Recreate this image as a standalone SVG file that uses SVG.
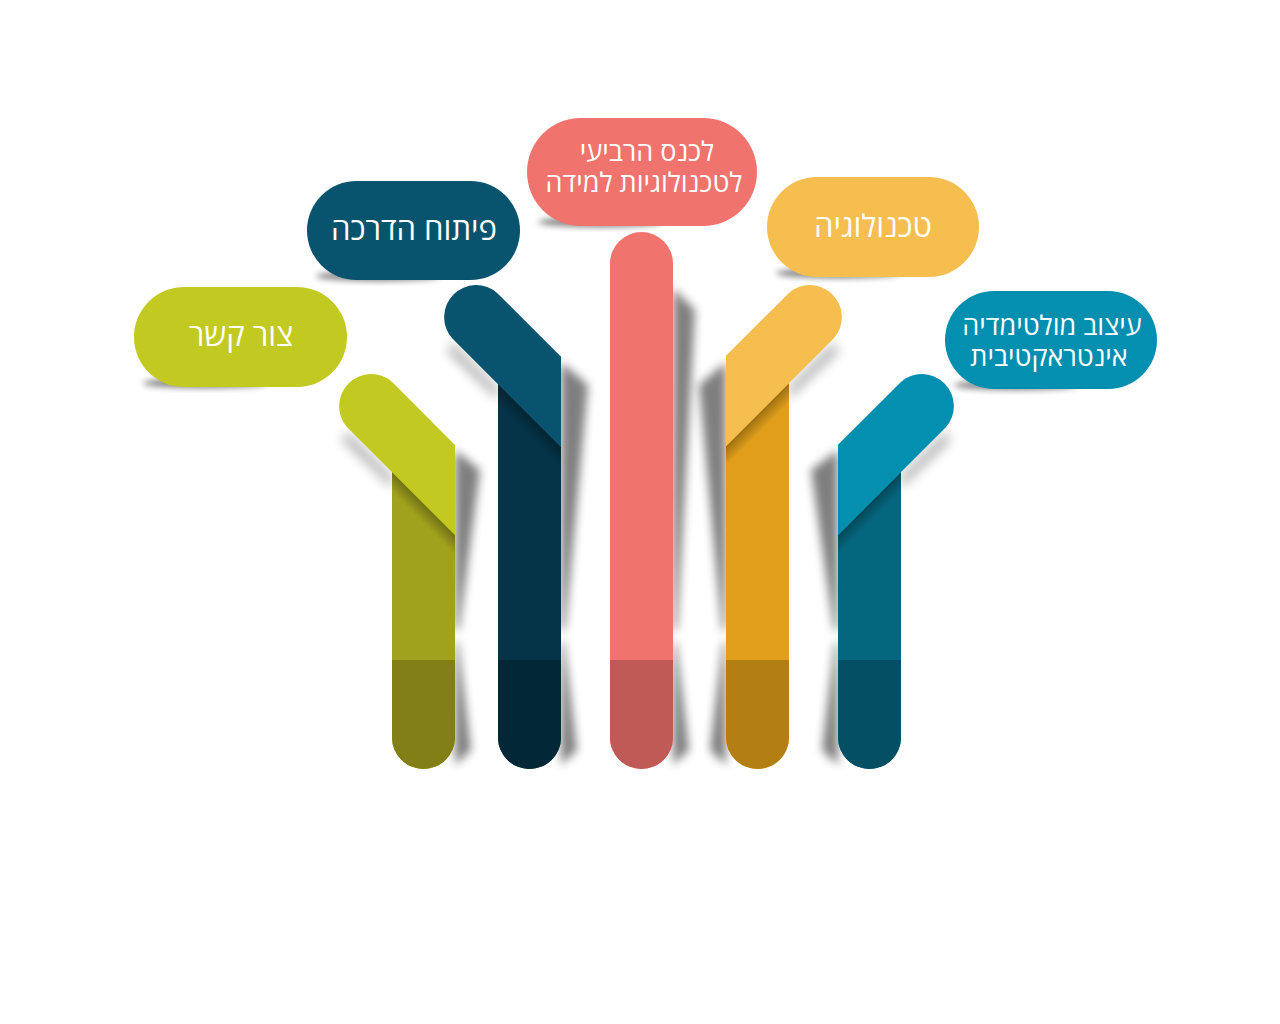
<svg xmlns="http://www.w3.org/2000/svg" width="1280" height="1024" viewBox="0 0 1280 1024">
<defs>
<filter id="blur" x="-50%" y="-50%" width="200%" height="200%"><feGaussianBlur stdDeviation="5"/></filter>
<filter id="blurs" x="-50%" y="-50%" width="200%" height="200%"><feGaussianBlur stdDeviation="6"/></filter>
<filter id="blur2" x="-50%" y="-50%" width="200%" height="200%"><feGaussianBlur stdDeviation="3"/></filter>
<linearGradient id="gOl" gradientUnits="userSpaceOnUse" x1="423.5" y1="503.5" x2="413.5" y2="513.5"><stop offset="0" stop-color="#000" stop-opacity=".3"/><stop offset="1" stop-color="#000" stop-opacity="0"/></linearGradient>
<linearGradient id="gTe" gradientUnits="userSpaceOnUse" x1="529.5" y1="415.7" x2="519.5" y2="425.7"><stop offset="0" stop-color="#000" stop-opacity=".3"/><stop offset="1" stop-color="#000" stop-opacity="0"/></linearGradient>
<linearGradient id="gYe" gradientUnits="userSpaceOnUse" x1="757.5" y1="414.7" x2="767.5" y2="424.7"><stop offset="0" stop-color="#000" stop-opacity=".3"/><stop offset="1" stop-color="#000" stop-opacity="0"/></linearGradient>
<linearGradient id="gBl" gradientUnits="userSpaceOnUse" x1="869.5" y1="503.7" x2="879.5" y2="513.7"><stop offset="0" stop-color="#000" stop-opacity=".3"/><stop offset="1" stop-color="#000" stop-opacity="0"/></linearGradient>
<style>
.sh{fill:#000;opacity:.5;filter:url(#blur)}
.ash{fill:#000;opacity:.3;filter:url(#blurs)}
.psh{fill:#000;opacity:.5;filter:url(#blur2)}
.lbl{font-family:"Open Sans","Liberation Sans","DejaVu Sans",sans-serif;fill:#fff;text-anchor:middle}
.big{font-size:31px}
.small{font-size:27px}
</style>
</defs>
<rect width="1280" height="1024" fill="#fff"/>
<g id="shadows">
<path class="sh" d="M455,450 L480,470 L459,630 L455,630 Z"/>
<path class="sh" d="M455,642 L458,642 L471,750 L455,765 Z"/>
<path class="ash" d="M348,432 L392,476 L392,488 L342,440 Z"/>
<path class="sh" d="M561,362 L588,385 L565,630 L561,630 Z"/>
<path class="sh" d="M561,642 L564,642 L577,750 L561,765 Z"/>
<path class="ash" d="M453,343 L498,388 L498,400 L447,351 Z"/>
<path class="sh" d="M673,288 L695,310 L677,630 L673,630 Z"/>
<path class="sh" d="M673,642 L676,642 L689,750 L673,765 Z"/>
<path class="sh" d="M726,362 L699,385 L722,630 L726,630 Z"/>
<path class="sh" d="M726,642 L723,642 L710,750 L726,765 Z"/>
<path class="ash" d="M833,343 L789,387 L789,399 L839,351 Z"/>
<path class="sh" d="M838,450 L811,470 L834,630 L838,630 Z"/>
<path class="sh" d="M838,642 L835,642 L822,750 L838,765 Z"/>
<path class="ash" d="M945,432 L901,476 L901,488 L951,440 Z"/>
</g>
<g id="connectors"/>
<g id="bar-olive">
<path d="M392,445 H455 V737.5 A31.5,31.5 0 0 1 392,737.5 Z" fill="#A0A11D"/>
<path d="M392,660 H455 V737.5 A31.5,31.5 0 0 1 392,737.5 Z" fill="#817F15"/>
<path d="M392,472 L455,535 L455,560 L392,497 Z" fill="url(#gOl)"/>
<path d="M392.6,382.4 L455,445 L455,535 L347.4,427.6 A32,32 0 0 1 392.6,382.4 Z" fill="#C2C920"/>
</g>
<g id="bar-teal">
<path d="M498,356.8 H561 V737.5 A31.5,31.5 0 0 1 498,737.5 Z" fill="#053347"/>
<path d="M498,660 H561 V737.5 A31.5,31.5 0 0 1 498,737.5 Z" fill="#022837"/>
<path d="M498,384.2 L561,447.2 L561,472 L498,409 Z" fill="url(#gTe)"/>
<path d="M497.6,293.4 L561,356.8 L561,447.2 L452.4,338.6 A32,32 0 0 1 497.6,293.4 Z" fill="#08546E"/>
</g>
<g id="bar-coral">
<rect x="610" y="232" width="63" height="537" rx="31.5" fill="#F0736D"/>
<path d="M610,660 H673 V737.5 A31.5,31.5 0 0 1 610,737.5 Z" fill="#C05A56"/>
</g>
<g id="bar-yellow">
<path d="M726,355.8 H789 V737.5 A31.5,31.5 0 0 1 726,737.5 Z" fill="#E19F1B"/>
<path d="M726,660 H789 V737.5 A31.5,31.5 0 0 1 726,737.5 Z" fill="#B47F12"/>
<path d="M789,383.2 L726,446.2 L726,471 L789,408 Z" fill="url(#gYe)"/>
<path d="M788.4,293.4 L726,355.8 L726,446.2 L833.6,338.6 A32 32 0 0 0 788.4,293.4 Z" fill="#F5BE4F"/>
</g>
<g id="bar-blue">
<path d="M838,444.8 H901 V737.5 A31.5,31.5 0 0 1 838,737.5 Z" fill="#04677E"/>
<path d="M838,660 H901 V737.5 A31.5,31.5 0 0 1 838,737.5 Z" fill="#044F63"/>
<path d="M901,472.2 L838,535.2 L838,560 L901,497 Z" fill="url(#gBl)"/>
<path d="M900.4,382.4 L838,444.8 L838,535.2 L945.6,427.6 A32,32 0 0 0 900.4,382.4 Z" fill="#038FB0"/>
</g>
<g id="label-olive">
<ellipse class="psh" cx="205" cy="383" rx="62" ry="5"/>
<rect x="134" y="287" width="213" height="100" rx="50" fill="#C2C920"/>
<text class="lbl big" x="241" y="346">צור קשר</text>
</g>
<g id="label-teal">
<ellipse class="psh" cx="378" cy="276" rx="62" ry="5"/>
<rect x="307" y="181" width="213" height="99" rx="49.5" fill="#08546E"/>
<text class="lbl big" x="414" y="240">פיתוח הדרכה</text>
</g>
<g id="label-coral">
<ellipse class="psh" cx="600" cy="222" rx="62" ry="5"/>
<rect x="527" y="118" width="230" height="108" rx="54" fill="#F0736D"/>
<text class="lbl small"><tspan x="647" y="161">לכנס הרביעי</tspan><tspan x="644" y="192">לטכנולוגיות למידה</tspan></text>
</g>
<g id="label-yellow">
<ellipse class="psh" cx="838" cy="273" rx="62" ry="5"/>
<rect x="767" y="177" width="212" height="100" rx="50" fill="#F5BE4F"/>
<text class="lbl big" x="873" y="237">טכנולוגיה</text>
</g>
<g id="label-blue">
<ellipse class="psh" cx="1016" cy="385" rx="62" ry="5"/>
<rect x="945" y="291" width="212" height="98" rx="49" fill="#038FB0"/>
<text class="lbl small"><tspan x="1052" y="335">עיצוב מולטימדיה</tspan><tspan x="1049" y="366">אינטראקטיבית</tspan></text>
</g>
</svg>
